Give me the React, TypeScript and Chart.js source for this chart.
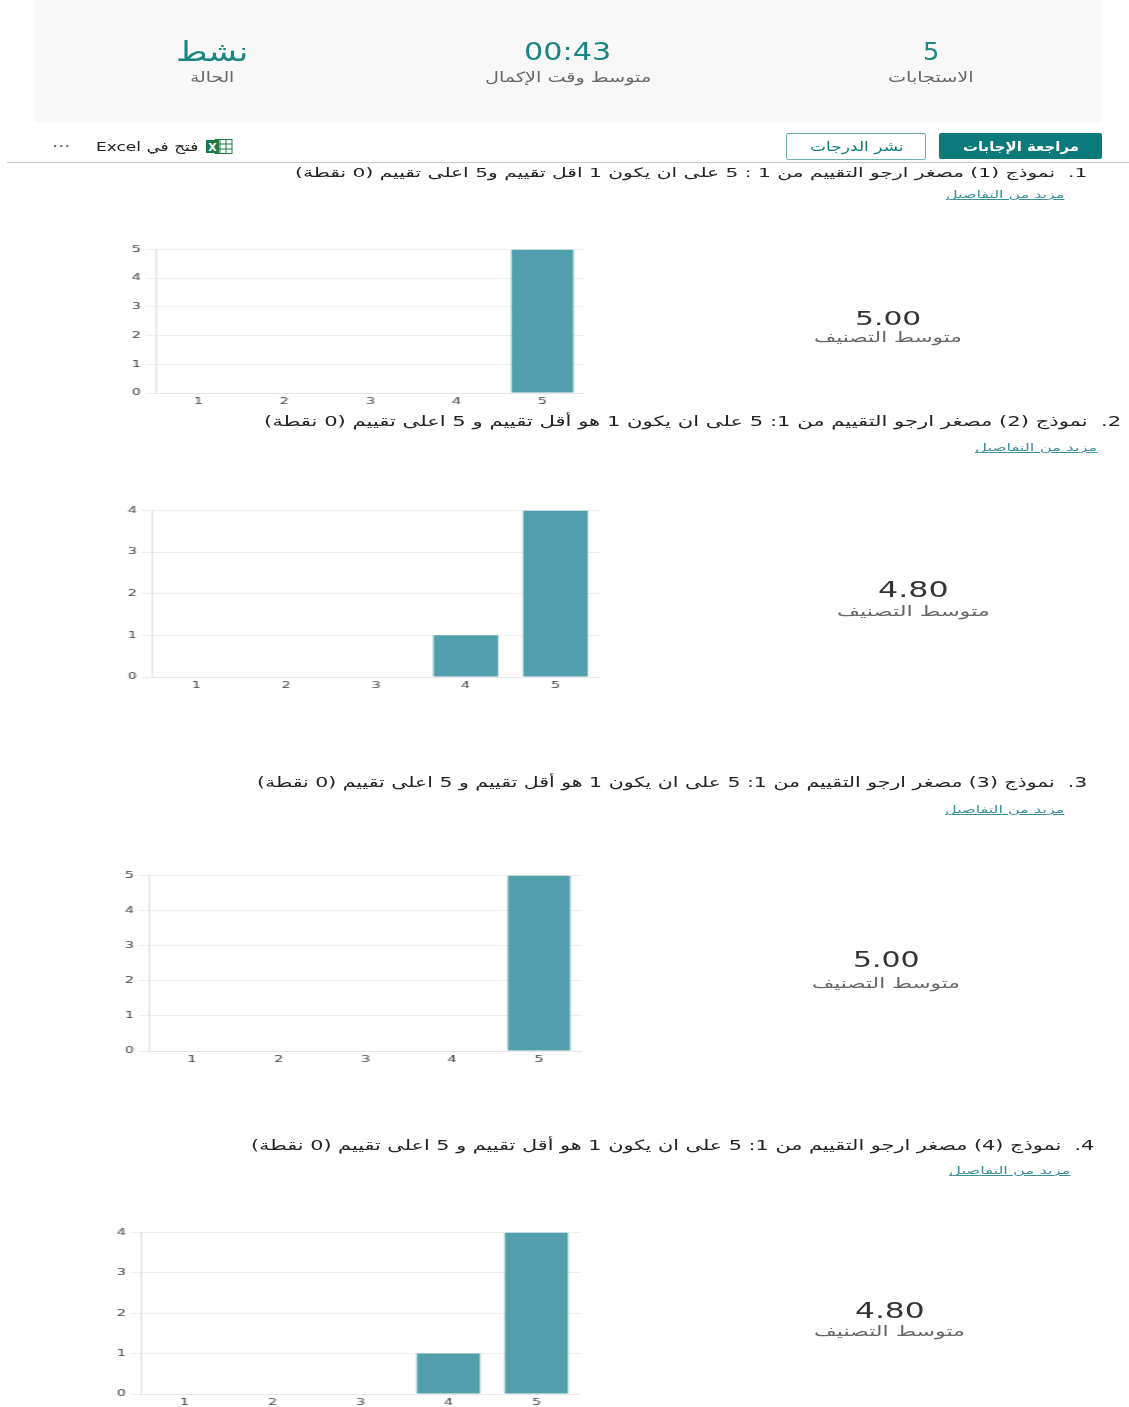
import React, { useEffect, useLayoutEffect, useRef } from "react";
import { Chart, registerables } from "chart.js";

Chart.register(...registerables);

const ratingLabels = ["1", "2", "3", "4", "5"];
const q1Counts = [0, 0, 0, 0, 5];
const q2Counts = [0, 0, 0, 1, 4];
const q3Counts = [0, 0, 0, 0, 5];
const q4Counts = [0, 0, 0, 1, 4];
const q1Title = "1.  نموذج (1) مصغر ارجو التقييم من 1 : 5 على ان يكون 1 اقل تقييم و5 اعلى تقييم (0 نقطة)";
const q2Title = "2.  نموذج (2) مصغر ارجو التقييم من 1: 5 على ان يكون 1 هو أقل تقييم و 5 اعلى تقييم (0 نقطة)";
const q3Title = "3.  نموذج (3) مصغر ارجو التقييم من 1: 5 على ان يكون 1 هو أقل تقييم و 5 اعلى تقييم (0 نقطة)";
const q4Title = "4.  نموذج (4) مصغر ارجو التقييم من 1: 5 على ان يكون 1 هو أقل تقييم و 5 اعلى تقييم (0 نقطة)";
const moreDetails = "مزيد من التفاصيل";
const averageLabel = "متوسط التصنيف";

const TEAL = "#0b7a7a";
const TEXT_TEAL = "#1c8585";
const FONT = '"DejaVu Sans", "Noto Sans", sans-serif';

function T(props: { text: string; x0: number; x1: number; y: number; size: number; color: string; weight?: number; underline?: boolean; ltr?: boolean }) {
  const { text, x0, x1, y, size, color, weight, underline, ltr } = props;
  const ref = useRef<HTMLSpanElement>(null);
  useLayoutEffect(() => {
    const el = ref.current!;
    const w = el.offsetWidth;
    el.style.transform = `translateY(-50%) scaleX(${(x1 - x0) / w})`;
  }, []);
  return (
    <span
      ref={ref}
      dir={ltr ? "ltr" : "rtl"}
      style={{
        position: "absolute",
        left: x0,
        top: y,
        whiteSpace: "pre",
        fontFamily: FONT,
        fontSize: size,
        lineHeight: 1,
        color,
        fontWeight: weight ?? 400,
        textDecoration: underline ? "underline" : "none",
        transformOrigin: "left center",
        filter: "blur(0.3px)",
      }}
    >
      {text}
    </span>
  );
}

function Bars(props: { data: number[]; max: number; left: number; right: number; top: number; bottom: number; fs: number }) {
  const { data, max, left, right, top, bottom, fs } = props;
  const ref = useRef<HTMLCanvasElement>(null);
  const s = 1.6;
  const yW = 24;
  const xH = 16;
  const pad = 8;
  const cw = Math.round((right - left) / s + yW);
  const ch = bottom - top + pad + xH;
  useEffect(() => {
    const chart = new Chart(ref.current!, {
      type: "bar",
      data: {
        labels: ratingLabels,
        datasets: [{ data, backgroundColor: "#519fad", borderWidth: 0, barPercentage: 0.72, categoryPercentage: 1 }],
      },
      options: {
        animation: false,
        responsive: false,
        devicePixelRatio: 1,
        layout: { padding: { top: pad, right: 0, left: 0, bottom: 0 } },
        plugins: { legend: { display: false }, tooltip: { enabled: false } },
        scales: {
          x: {
            grid: { display: false, drawTicks: false },
            border: { color: "#e6e6e6" },
            ticks: { color: "#444", font: { size: fs, family: FONT }, padding: 3, maxRotation: 0 },
            afterFit: (sc: any) => { sc.height = xH; },
          },
          y: {
            min: 0,
            max,
            grid: { color: "#eeeeee", tickLength: 6, tickColor: "#eeeeee" },
            border: { color: "#e4e4e4" },
            ticks: { stepSize: 1, color: "#444", font: { size: fs, family: FONT }, padding: 3 },
            afterFit: (sc: any) => { sc.width = yW; },
          },
        },
      },
    } as any);
    return () => chart.destroy();
  }, []);
  return (
    <canvas
      ref={ref}
      width={cw}
      height={ch}
      style={{
        position: "absolute",
        left: left - yW * s + 0.4,
        top: top - pad - 0.5,
        transform: `scaleX(${(right - left + yW * s) / cw})`,
        transformOrigin: "left top",
      }}
    />
  );
}

function ExcelIcon() {
  return (
    <svg style={{ position: "absolute", left: 206, top: 139 }} width={27} height={15} viewBox="0 0 27 15">
      <rect x={9} y={0.5} width={17} height={14} fill="#fff" stroke="#1e7a45" />
      <path d="M9 5h17M9 10h17M14 0v15M20 0v15" stroke="#1e7a45" strokeWidth={1} />
      <rect x={0} y={1} width={13} height={13} fill="#1e7a45" />
      <text x={6.5} y={11.5} fontSize={11} fontFamily={FONT} fontWeight={700} fill="#fff" textAnchor="middle">X</text>
    </svg>
  );
}

export default function App() {
  return (
    <div style={{ position: "absolute", left: 0, top: 0, width: 1129, height: 1407, overflow: "hidden", background: "#fff" }}>
      <div style={{ position: "absolute", left: 34, top: -4, width: 1068, height: 126, background: "#f8f8f8", borderRadius: 4 }} />
      <T text="نشط" x0={176} x1={248} y={51} size={27} color={TEXT_TEAL} />
      <T text="00:43" x0={524} x1={611} y={52} size={24} color={TEXT_TEAL} ltr />
      <T text="5" x0={923} x1={939} y={52} size={24} color={TEXT_TEAL} ltr />
      <T text="الحالة" x0={190} x1={234} y={77} size={14} color="#666" />
      <T text="متوسط وقت الإكمال" x0={485} x1={651} y={77} size={14} color="#666" />
      <T text="الاستجابات" x0={888} x1={973} y={77} size={14} color="#666" />

      <div style={{ position: "absolute", left: 939, top: 133, width: 163, height: 26, background: TEAL, borderRadius: 2 }} />
      <T text="مراجعة الإجابات" x0={963} x1={1079} y={146} size={13} color="#fff" weight={700} />
      <div style={{ position: "absolute", left: 786, top: 133, width: 138, height: 25, background: "#fff", border: "1px solid #6fb0b0", borderRadius: 2 }} />
      <T text="نشر الدرجات" x0={810} x1={903} y={146} size={13} color={TEAL} />
      <ExcelIcon />
      <T text="فتح في Excel" x0={96} x1={198} y={146} size={13} color="#222" />
      <T text="···" x0={52} x1={70} y={146} size={14} color="#555" ltr />
      <div style={{ position: "absolute", left: 7, top: 162, width: 1122, height: 1, background: "#c8c8c8" }} />

      <T text={q1Title} x0={295} x1={1087} y={172} size={13} color="#222" />
      <T text={moreDetails} x0={946} x1={1064} y={195} size={10} color="#3b8f9a" underline />
      <Bars data={q1Counts} max={5} left={155} right={585} top={249} bottom={393} fs={9} />
      <T text="5.00" x0={855} x1={922} y={318} size={20} color="#333" ltr />
      <T text={averageLabel} x0={814} x1={962} y={337} size={14} color="#666" />

      <T text={q2Title} x0={264} x1={1122} y={421} size={14} color="#222" />
      <T text={moreDetails} x0={975} x1={1097} y={448} size={10} color="#3b8f9a" underline />
      <Bars data={q2Counts} max={4} left={151} right={600} top={510} bottom={677} fs={9} />
      <T text="4.80" x0={878} x1={949} y={590} size={21} color="#333" ltr />
      <T text={averageLabel} x0={837} x1={990} y={611} size={14} color="#666" />

      <T text={q3Title} x0={257} x1={1088} y={782} size={14} color="#222" />
      <T text={moreDetails} x0={945} x1={1064} y={810} size={10} color="#3b8f9a" underline />
      <Bars data={q3Counts} max={5} left={148} right={582} top={875} bottom={1051} fs={9} />
      <T text="5.00" x0={853} x1={920} y={960} size={21} color="#333" ltr />
      <T text={averageLabel} x0={812} x1={960} y={983} size={14} color="#666" />

      <T text={q4Title} x0={251} x1={1095} y={1145} size={14} color="#222" />
      <T text={moreDetails} x0={949} x1={1070} y={1171} size={10} color="#3b8f9a" underline />
      <Bars data={q4Counts} max={4} left={140} right={580} top={1232} bottom={1394} fs={9} />
      <T text="4.80" x0={855} x1={925} y={1311} size={21} color="#333" ltr />
      <T text={averageLabel} x0={814} x1={965} y={1331} size={14} color="#666" />
    </div>
  );
}
